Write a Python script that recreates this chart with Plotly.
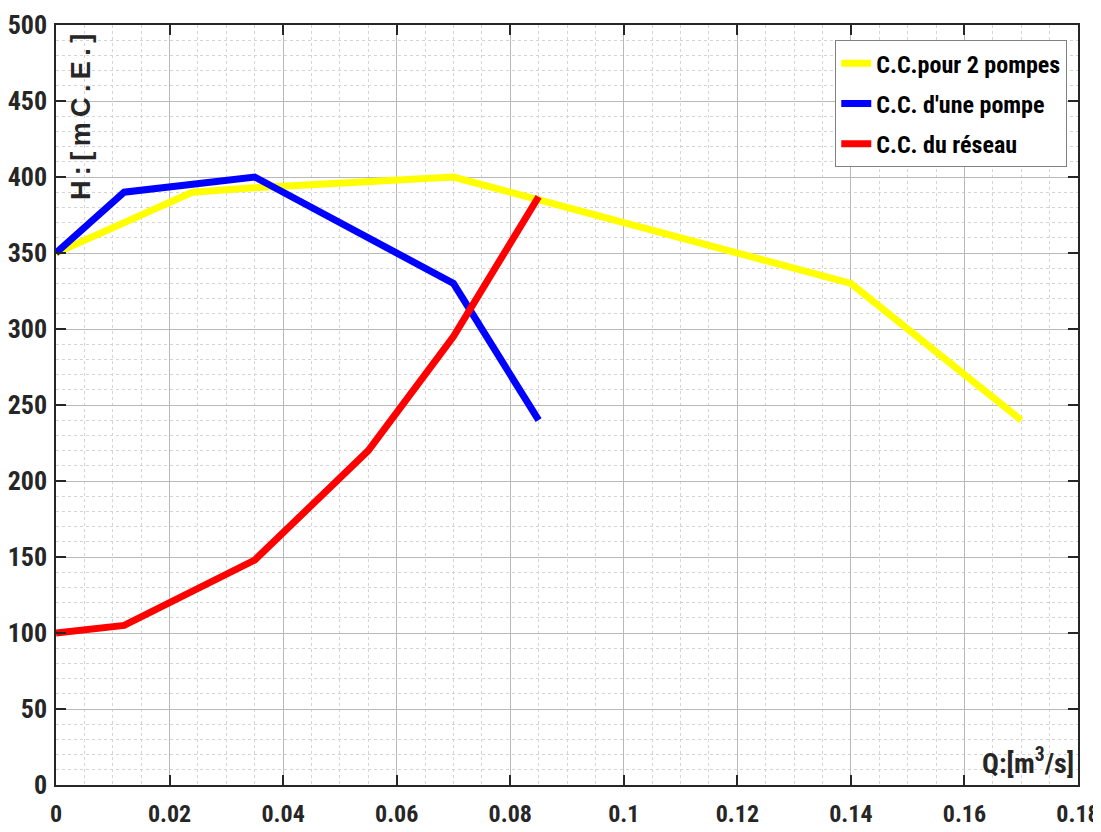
import plotly.graph_objects as go

# Data
q_two = [0, 0.024, 0.035, 0.07, 0.14, 0.17]
h_two = [350, 390, 393, 400, 330, 240]

q_one = [0, 0.012, 0.035, 0.07, 0.085]
h_one = [350, 390, 400, 330, 240]

q_net = [0, 0.012, 0.035, 0.055, 0.07, 0.085]
h_net = [100, 105, 148, 220, 295, 387]

names = ["C.C.pour 2 pompes", "C.C. d'une pompe", "C.C. du réseau"]
colors = ["#ffff00", "#0000ff", "#ff0000"]

x_ticks = [0, 0.02, 0.04, 0.06, 0.08, 0.1, 0.12, 0.14, 0.16, 0.18]
x_ticktext = ["0", "0.02", "0.04", "0.06", "0.08", "0.1", "0.12", "0.14", "0.16", "0.18"]
y_ticks = [0, 50, 100, 150, 200, 250, 300, 350, 400, 450, 500]

FONT = "Roboto Condensed"

fig = go.Figure()
for i, (q, h, n, c) in enumerate(zip([q_two, q_one, q_net], [h_two, h_one, h_net], names, colors)):
    fig.add_trace(go.Scatter(x=q, y=h, mode="lines", name=n, legendgroup=f"g{i}",
                             line=dict(color=c, width=7)))

axis_common = dict(
    showline=True, linecolor="#262626", linewidth=1.5, mirror="ticks",
    ticks="inside", ticklen=10, tickcolor="#262626", tickwidth=1.5,
    showgrid=True, gridcolor="#b8b8b8", gridwidth=1,
    zeroline=False, automargin=False, ticklabeloverflow="allow",
)

fig.update_xaxes(range=[0, 0.18], tickvals=x_ticks, ticktext=x_ticktext,
                 minor=dict(dtick=0.005, showgrid=True, griddash="dot",
                            gridcolor="#d4d4d4", gridwidth=1, ticks=""),
                 ticklabelstandoff=6,
                 tickfont=dict(family=FONT, size=24, color="#262626", weight="bold"),
                 **axis_common)
fig.update_yaxes(range=[0, 500], tickvals=y_ticks,
                 minor=dict(dtick=10, showgrid=True, griddash="dot",
                            gridcolor="#d4d4d4", gridwidth=1, ticks=""),
                 ticklabelstandoff=2,
                 tickfont=dict(family=FONT, size=26, color="#262626", weight="bold"),
                 **axis_common)

fig.add_annotation(text="H\u2009:\u2009[\u2009m\u2009C\u2009.\u2009E\u2009.\u2009]",
                   xref="paper", yref="paper",
                   x=0.0095, y=0.989, xanchor="left", yanchor="top",
                   textangle=-90, showarrow=False, borderpad=0,
                   font=dict(family="Liberation Sans", size=27, color="#262626", weight="bold"))
fig.add_annotation(text="Q:[m<sup>3</sup>/s]", xref="paper", yref="paper",
                   x=0.997, y=0.005, xanchor="right", yanchor="bottom",
                   showarrow=False, borderpad=0,
                   font=dict(family=FONT, size=28, color="#262626", weight="bold"))

fig.update_layout(
    width=1093, height=824,
    margin=dict(l=48, r=23, t=17, b=47),
    paper_bgcolor="white", plot_bgcolor="white",
    showlegend=True,
    legend=dict(x=0.9895, y=0.98, xanchor="right", yanchor="top",
                bgcolor="white", bordercolor="#808080", borderwidth=1,
                font=dict(family=FONT, size=24, color="black", weight="bold"),
                itemwidth=30, tracegroupgap=6),
)

fig.write_html("out.html")
